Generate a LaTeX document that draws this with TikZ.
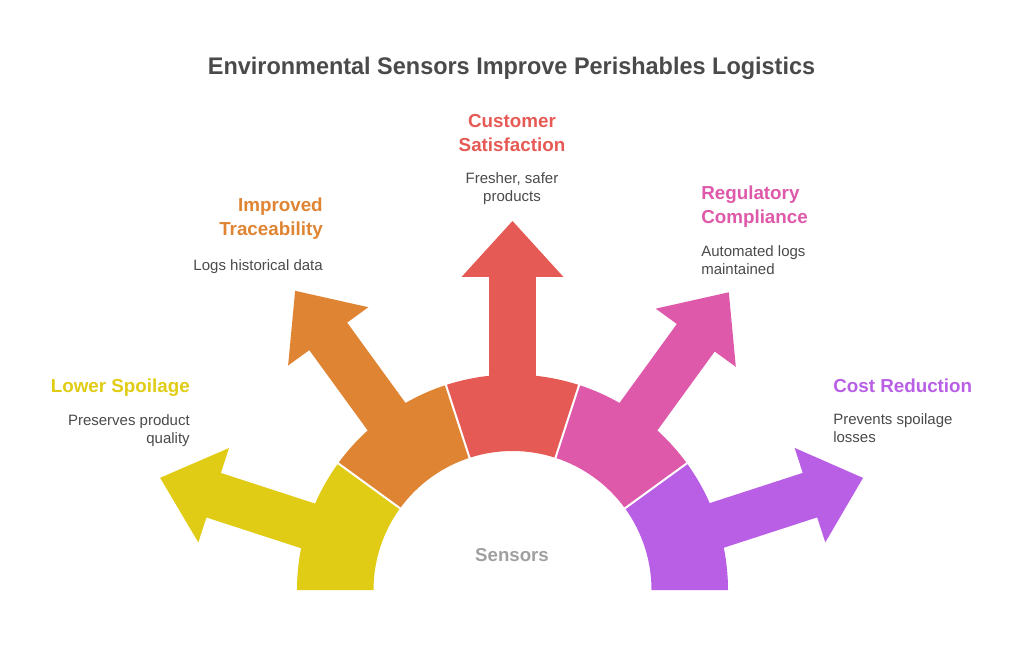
\documentclass[tikz,border=0pt]{standalone}
\usepackage{fontspec}
\setmainfont{Liberation Sans}
\newfontfamily\titlefont[FakeStretch=0.977]{Liberation Sans}
\definecolor{cyellow}{HTML}{E0CC14}
\definecolor{corange}{HTML}{DF8432}
\definecolor{cred}{HTML}{E65A55}
\definecolor{cpink}{HTML}{DE59A9}
\definecolor{cpurple}{HTML}{B85FE5}
\definecolor{ctext}{HTML}{4A4A4A}
\definecolor{cgrey}{HTML}{A0A0A0}
% #1 axis angle, #2 colour, #3 sideways shift of arrow, #4 head base, #5 tip, #6 head half width
\newcommand{\petal}[6]{%
  \begin{scope}[shift={(512.5,74)},rotate=#1]
    \pgfmathsetmacro{\lowy}{#3-23.4}
    \pgfmathsetmacro{\upy}{#3+23.4}
    \pgfmathsetmacro{\lowa}{asin(\lowy/215.5)}
    \pgfmathsetmacro{\upa}{asin(\upy/215.5)}
    \fill[#2] (-18:139) -- (-18:215.5)
      arc[start angle=-18,end angle=\lowa,radius=215.5]
      -- (#4,\lowy) -- (#4,#3-#6) -- (#5,#3) -- (#4,#3+#6) -- (#4,\upy)
      -- (\upa:215.5)
      arc[start angle=\upa,end angle=18,radius=215.5]
      -- (18:139)
      arc[start angle=18,end angle=-18,radius=139] -- cycle;
  \end{scope}}
\newcommand{\divider}[1]{%
  \begin{scope}[shift={(512.5,74)},rotate=#1]
    \draw[white,line width=1.5pt] (138,0) -- (216.5,0);
  \end{scope}}
\tikzset{
  head/.style={font=\fontsize{14.1pt}{18pt}\selectfont\bfseries,inner sep=0pt},
  desc/.style={font=\fontsize{11.25pt}{13.5pt}\selectfont,text=ctext,inner sep=0pt},
}
\begin{document}
\begin{tikzpicture}[x=0.75pt,y=0.75pt]
\useasboundingbox (0,0) rectangle (1024,664);
\petal{162}{cyellow}{2.2}{313.5}{369.8}{49.6}
\petal{126}{corange}{0}{313.5}{369.8}{49.6}
\petal{90}{cred}{0}{313}{369}{51}
\petal{54}{cpink}{0}{311.8}{368}{49.5}
\petal{18}{cpurple}{-1.7}{312.2}{368}{49.7}
\foreach \a in {144,108,72,36} {\divider{\a}}
\node[font=\fontsize{18pt}{22pt}\selectfont\bfseries\titlefont,text=ctext,inner sep=0pt] (title) at (511.5,596) {Environmental Sensors Improve Perishables Logistics};
\node[font=\fontsize{14pt}{18pt}\selectfont\bfseries,text=cgrey,inner sep=0pt] (sensors) at (512,109) {Sensors};
\node[head,text=cyellow,anchor=east,align=right] (h1) at (190,276) {Lower Spoilage};
\node[desc,anchor=north east,align=right] (d1) at (190,250) {Preserves product\\quality};
\node[head,text=corange,anchor=east,align=right] (h2) at (323,445) {Improved\\Traceability};
\node[desc,anchor=east,align=right] (d2) at (323,397) {Logs historical data};
\node[head,text=cred,align=center] (h3) at (512,531) {Customer\\Satisfaction};
\node[desc,align=center] (d3) at (512,475) {Fresher, safer\\products};
\node[head,text=cpink,anchor=west,align=left] (h4) at (701,457) {Regulatory\\Compliance};
\node[desc,anchor=west,align=left] (d4) at (701,404) {Automated logs\\maintained};
\node[head,text=cpurple,anchor=west,align=left] (h5) at (833,278) {Cost Reduction};
\node[desc,anchor=west,align=left] (d5) at (833,236) {Prevents spoilage\\losses};
\end{tikzpicture}
\end{document}
